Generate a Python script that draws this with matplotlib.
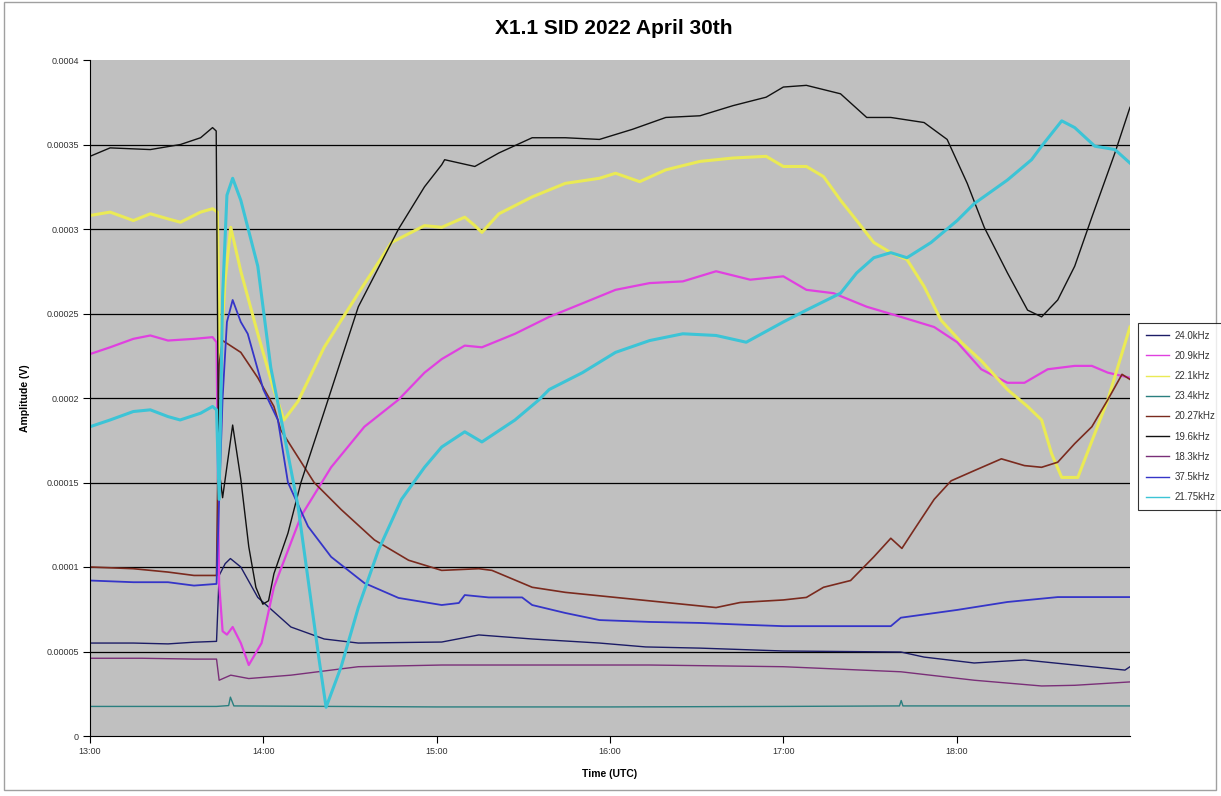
import matplotlib
matplotlib.use("Agg")
import matplotlib.pyplot as plt
from matplotlib.patches import Rectangle

plt.rcParams["font.family"] = ["Liberation Sans", "DejaVu Sans"]

# times are decimal hours UTC, amplitudes in volts
t_240 = [13.0, 13.25, 13.45, 13.6, 13.73, 13.745, 13.78, 13.81, 13.87, 13.968, 14.159, 14.351,
         14.548, 15.029, 15.243, 15.551, 15.939, 16.206, 16.519, 17.0, 17.678, 17.812, 18.101,
         18.391, 18.681, 18.971, 19.0]
v_240 = [5.5e-5, 5.5e-5, 5.45e-5, 5.55e-5, 5.6e-5, 9.5e-5, 1.02e-4, 1.05e-4, 1.0e-4, 8.2e-5,
         6.45e-5, 5.74e-5, 5.5e-5, 5.56e-5, 5.98e-5, 5.74e-5, 5.5e-5, 5.27e-5, 5.2e-5, 5.03e-5,
         4.97e-5, 4.67e-5, 4.32e-5, 4.5e-5, 4.2e-5, 3.9e-5, 4.1e-5]

t_209 = [13.0, 13.116, 13.25, 13.348, 13.45, 13.6, 13.707, 13.73, 13.745, 13.765, 13.79, 13.823,
         13.87, 13.916, 13.99, 14.061, 14.217, 14.391, 14.583, 14.78, 14.93, 15.029, 15.162,
         15.261, 15.452, 15.649, 15.841, 16.032, 16.229, 16.42, 16.612, 16.809, 17.0, 17.133,
         17.29, 17.481, 17.678, 17.87, 18.003, 18.142, 18.293, 18.391, 18.525, 18.681, 18.78,
         18.872, 19.0]
v_209 = [2.26e-4, 2.30e-4, 2.35e-4, 2.37e-4, 2.34e-4, 2.35e-4, 2.36e-4, 2.33e-4, 9.0e-5, 6.2e-5,
         6.0e-5, 6.45e-5, 5.5e-5, 4.2e-5, 5.5e-5, 8.8e-5, 1.30e-4, 1.59e-4, 1.83e-4, 1.99e-4,
         2.15e-4, 2.23e-4, 2.31e-4, 2.30e-4, 2.38e-4, 2.48e-4, 2.56e-4, 2.64e-4, 2.68e-4, 2.69e-4,
         2.75e-4, 2.70e-4, 2.72e-4, 2.64e-4, 2.62e-4, 2.54e-4, 2.48e-4, 2.42e-4, 2.33e-4, 2.17e-4,
         2.09e-4, 2.09e-4, 2.17e-4, 2.19e-4, 2.19e-4, 2.15e-4, 2.12e-4]

t_221 = [13.0, 13.116, 13.25, 13.348, 13.45, 13.522, 13.638, 13.707, 13.735, 13.75, 13.78, 13.812,
         13.87, 13.968, 14.06, 14.119, 14.2, 14.351, 14.548, 14.739, 14.93, 15.029, 15.162,
         15.22, 15.261, 15.359, 15.551, 15.742, 15.939, 16.032, 16.171, 16.322, 16.519, 16.71,
         16.901, 17.0, 17.133, 17.232, 17.33, 17.423, 17.522, 17.62, 17.713, 17.812, 17.91,
         18.026, 18.142, 18.293, 18.409, 18.49, 18.548, 18.606, 18.699, 18.797, 18.872, 19.0]
v_221 = [3.08e-4, 3.10e-4, 3.05e-4, 3.09e-4, 3.06e-4, 3.04e-4, 3.10e-4, 3.12e-4, 3.10e-4, 2.20e-4,
         2.70e-4, 3.01e-4, 2.75e-4, 2.38e-4, 2.05e-4, 1.87e-4, 1.98e-4, 2.30e-4, 2.62e-4, 2.92e-4,
         3.02e-4, 3.01e-4, 3.07e-4, 3.02e-4, 2.98e-4, 3.09e-4, 3.19e-4, 3.27e-4, 3.30e-4, 3.33e-4,
         3.28e-4, 3.35e-4, 3.40e-4, 3.42e-4, 3.43e-4, 3.37e-4, 3.37e-4, 3.31e-4, 3.17e-4, 3.05e-4,
         2.92e-4, 2.86e-4, 2.82e-4, 2.66e-4, 2.46e-4, 2.33e-4, 2.22e-4, 2.05e-4, 1.95e-4, 1.87e-4,
         1.67e-4, 1.53e-4, 1.53e-4, 1.79e-4, 1.99e-4, 2.42e-4]

t_234 = [13.0, 13.73, 13.8, 13.81, 13.83, 15.0, 16.0, 17.0, 17.67, 17.68, 17.69, 19.0]
v_234 = [1.75e-5, 1.75e-5, 1.8e-5, 2.3e-5, 1.78e-5, 1.72e-5, 1.72e-5, 1.75e-5, 1.78e-5, 2.1e-5,
         1.78e-5, 1.78e-5]

t_2027 = [13.0, 13.25, 13.45, 13.6, 13.73, 13.745, 13.765, 13.87, 13.968, 14.061, 14.101, 14.293,
          14.449, 14.641, 14.838, 15.029, 15.243, 15.319, 15.551, 15.742, 16.032, 16.322, 16.612,
          16.751, 17.0, 17.133, 17.232, 17.388, 17.522, 17.62, 17.684, 17.754, 17.87, 17.968,
          18.101, 18.258, 18.391, 18.49, 18.583, 18.681, 18.78, 18.872, 18.954, 19.0]
v_2027 = [1.00e-4, 9.9e-5, 9.7e-5, 9.5e-5, 9.5e-5, 2.20e-4, 2.34e-4, 2.27e-4, 2.12e-4, 1.95e-4,
          1.81e-4, 1.50e-4, 1.34e-4, 1.16e-4, 1.04e-4, 9.8e-5, 9.9e-5, 9.8e-5, 8.8e-5, 8.5e-5,
          8.2e-5, 7.9e-5, 7.6e-5, 7.9e-5, 8.05e-5, 8.2e-5, 8.8e-5, 9.2e-5, 1.06e-4, 1.17e-4,
          1.11e-4, 1.22e-4, 1.40e-4, 1.51e-4, 1.57e-4, 1.64e-4, 1.60e-4, 1.59e-4, 1.62e-4, 1.73e-4,
          1.83e-4, 1.99e-4, 2.14e-4, 2.11e-4]

t_196 = [13.0, 13.116, 13.348, 13.522, 13.638, 13.707, 13.728, 13.742, 13.765, 13.823, 13.87,
         13.916, 13.957, 13.997, 14.03, 14.061, 14.142, 14.217, 14.345, 14.548, 14.78, 14.93,
         15.029, 15.046, 15.22, 15.359, 15.551, 15.742, 15.939, 16.13, 16.322, 16.519, 16.71,
         16.901, 17.0, 17.133, 17.33, 17.481, 17.62, 17.812, 17.945, 18.061, 18.159, 18.293,
         18.409, 18.49, 18.583, 18.681, 18.78, 18.913, 19.0]
v_196 = [3.43e-4, 3.48e-4, 3.47e-4, 3.50e-4, 3.54e-4, 3.60e-4, 3.58e-4, 1.60e-4, 1.41e-4, 1.84e-4,
         1.52e-4, 1.12e-4, 8.8e-5, 7.8e-5, 8.0e-5, 9.6e-5, 1.20e-4, 1.50e-4, 1.90e-4, 2.54e-4,
         3.00e-4, 3.25e-4, 3.38e-4, 3.41e-4, 3.37e-4, 3.45e-4, 3.54e-4, 3.54e-4, 3.53e-4, 3.59e-4,
         3.66e-4, 3.67e-4, 3.73e-4, 3.78e-4, 3.84e-4, 3.85e-4, 3.80e-4, 3.66e-4, 3.66e-4, 3.63e-4,
         3.53e-4, 3.27e-4, 3.01e-4, 2.74e-4, 2.52e-4, 2.48e-4, 2.58e-4, 2.78e-4, 3.07e-4, 3.45e-4,
         3.72e-4]

t_183 = [13.0, 13.3, 13.6, 13.73, 13.745, 13.812, 13.916, 14.159, 14.548, 15.029, 15.551, 16.229,
         17.0, 17.678, 18.101, 18.49, 18.681, 19.0]
v_183 = [4.6e-5, 4.6e-5, 4.55e-5, 4.55e-5, 3.3e-5, 3.6e-5, 3.4e-5, 3.6e-5, 4.1e-5, 4.2e-5, 4.2e-5,
         4.2e-5, 4.1e-5, 3.8e-5, 3.3e-5, 2.96e-5, 3.0e-5, 3.2e-5]

t_375 = [13.0, 13.25, 13.45, 13.6, 13.73, 13.745, 13.765, 13.79, 13.823, 13.87, 13.91, 14.0,
         14.084, 14.142, 14.258, 14.391, 14.583, 14.78, 15.029, 15.128, 15.162, 15.3, 15.493,
         15.551, 15.742, 15.939, 16.229, 16.519, 16.809, 17.0, 17.3, 17.62, 17.678, 18.003,
         18.293, 18.583, 19.0]
v_375 = [9.2e-5, 9.1e-5, 9.1e-5, 8.9e-5, 9.0e-5, 1.40e-4, 2.00e-4, 2.45e-4, 2.58e-4, 2.45e-4,
         2.38e-4, 2.05e-4, 1.87e-4, 1.50e-4, 1.24e-4, 1.06e-4, 9.05e-5, 8.17e-5, 7.75e-5, 7.87e-5,
         8.34e-5, 8.2e-5, 8.2e-5, 7.75e-5, 7.28e-5, 6.86e-5, 6.75e-5, 6.69e-5, 6.57e-5, 6.5e-5,
         6.5e-5, 6.5e-5, 7.0e-5, 7.46e-5, 7.93e-5, 8.22e-5, 8.22e-5]

t_2175 = [13.0, 13.116, 13.25, 13.348, 13.45, 13.52, 13.638, 13.707, 13.73, 13.745, 13.765, 13.79,
          13.823, 13.87, 13.968, 14.043, 14.119, 14.2, 14.275, 14.322, 14.362, 14.449, 14.548,
          14.664, 14.797, 14.93, 15.029, 15.162, 15.261, 15.452, 15.591, 15.649, 15.841, 16.032,
          16.229, 16.42, 16.612, 16.786, 17.0, 17.133, 17.33, 17.423, 17.522, 17.62, 17.713,
          17.852, 18.003, 18.101, 18.293, 18.432, 18.49, 18.606, 18.681, 18.797, 18.913, 19.0]
v_2175 = [1.83e-4, 1.87e-4, 1.92e-4, 1.93e-4, 1.89e-4, 1.87e-4, 1.91e-4, 1.95e-4, 1.93e-4, 1.40e-4,
          2.60e-4, 3.20e-4, 3.30e-4, 3.17e-4, 2.78e-4, 2.18e-4, 1.79e-4, 1.36e-4, 8.0e-5, 4.5e-5,
          1.7e-5, 4.1e-5, 7.6e-5, 1.10e-4, 1.40e-4, 1.59e-4, 1.71e-4, 1.80e-4, 1.74e-4, 1.87e-4,
          1.99e-4, 2.05e-4, 2.15e-4, 2.27e-4, 2.34e-4, 2.38e-4, 2.37e-4, 2.33e-4, 2.45e-4, 2.52e-4,
          2.62e-4, 2.74e-4, 2.83e-4, 2.86e-4, 2.83e-4, 2.92e-4, 3.05e-4, 3.15e-4, 3.29e-4, 3.41e-4,
          3.49e-4, 3.64e-4, 3.60e-4, 3.49e-4, 3.47e-4, 3.39e-4]

SERIES = [
    ("24.0kHz", t_240, v_240, "#1c1c66", 1.0),
    ("20.9kHz", t_209, v_209, "#e040e0", 1.6),
    ("22.1kHz", t_221, v_221, "#eaea55", 2.2),
    ("23.4kHz", t_234, v_234, "#2a7f7f", 1.0),
    ("20.27kHz", t_2027, v_2027, "#7a2a1e", 1.2),
    ("19.6kHz", t_196, v_196, "#111111", 1.0),
    ("18.3kHz", t_183, v_183, "#7a2f78", 1.0),
    ("37.5kHz", t_375, v_375, "#3535c8", 1.3),
    ("21.75kHz", t_2175, v_2175, "#3cc4d6", 2.2),
]

x_ticks = [13, 14, 15, 16, 17, 18]
x_tick_labels = ["13:00", "14:00", "15:00", "16:00", "17:00", "18:00"]
y_ticks = [0, 5e-5, 1e-4, 1.5e-4, 2e-4, 2.5e-4, 3e-4, 3.5e-4, 4e-4]
y_tick_labels = ["0", "0.00005", "0.0001", "0.00015", "0.0002", "0.00025", "0.0003",
                 "0.00035", "0.0004"]


def plot_sid():
    fig = plt.figure(figsize=(12.21, 7.96), dpi=100)
    ax = fig.add_axes([90 / 1221, 1 - 736 / 796, 1040 / 1221, 676 / 796])
    ax.set_facecolor("#c0c0c0")

    for y in y_ticks[1:-1]:
        ax.axhline(y, color="black", linewidth=0.9, zorder=1)

    for label, t, v, color, lw in SERIES:
        ax.plot(t, v, color=color, linewidth=lw, label=label, zorder=2)

    ax.set_xlim(13, 19)
    ax.set_ylim(0, 4e-4)
    ax.set_xticks(x_ticks)
    ax.set_xticklabels(x_tick_labels)
    ax.set_yticks(y_ticks)
    ax.set_yticklabels(y_tick_labels)
    ax.tick_params(labelsize=6.5, labelcolor="#333333", direction="out", length=5, width=0.8)
    ax.tick_params(axis="y", pad=3)
    ax.tick_params(axis="x", pad=3)
    for side in ["top", "right"]:
        ax.spines[side].set_visible(False)
    ax.spines["left"].set_linewidth(0.8)
    ax.spines["bottom"].set_linewidth(0.8)

    ax.set_xlabel("Time (UTC)", fontsize=7.5, fontweight="bold", labelpad=9)
    ax.set_ylabel("Amplitude (V)", fontsize=7.5, fontweight="bold", labelpad=12)
    fig.text(614 / 1221, 1 - 28 / 796, "X1.1 SID 2022 April 30th", ha="center", va="center",
             fontsize=15, fontweight="bold")

    leg = fig.legend(loc="upper left", bbox_to_anchor=(1133 / 1221, 1 - 318 / 796),
                     fontsize=7, frameon=True, fancybox=False, handlelength=2.4,
                     labelspacing=1.05, borderpad=0.8, handletextpad=0.6)
    leg.get_frame().set_edgecolor("black")
    leg.get_frame().set_linewidth(0.8)
    for text in leg.get_texts():
        text.set_color("#333333")
    for line in leg.get_lines():
        line.set_linewidth(1.0)

    fig.patches.append(Rectangle((4 / 1221, 6 / 796), 1212 / 1221, 788 / 796,
                                 transform=fig.transFigure, fill=False,
                                 edgecolor="#a0a0a0", linewidth=1.0))
    fig.savefig("out.png", dpi=100)


def main():
    plot_sid()


if __name__ == "__main__":
    main()
